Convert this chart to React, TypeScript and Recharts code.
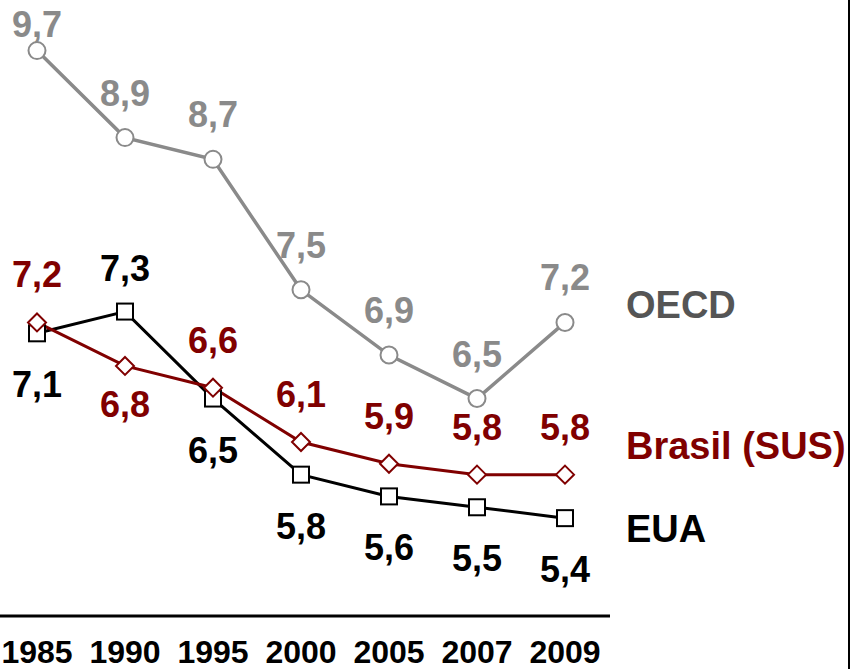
import React from "react";
import { LineChart, Line, XAxis, YAxis } from "recharts";

const years = ["1985", "1990", "1995", "2000", "2005", "2007", "2009"];
const oecd = [9.7, 8.9, 8.7, 7.5, 6.9, 6.5, 7.2];
const brasil = [7.2, 6.8, 6.6, 6.1, 5.9, 5.8, 5.8];
const eua = [7.1, 7.3, 6.5, 5.8, 5.6, 5.5, 5.4];

// label placement: which years break the usual side
const brasilLabelsBelow = ["1990"];
const euaLabelsAbove = ["1990"];

const data = years.map((year, i) => ({
  year,
  oecd: oecd[i],
  brasil: brasil[i],
  eua: eua[i],
}));

const FONT = "'Liberation Sans', Arial, sans-serif";
const GRAY = "#8a8a8a";
const RED = "#800000";
const BLACK = "#000000";

const fmt = (v: number) => v.toFixed(1).replace(".", ",");

function CircleDot(props: any) {
  const { cx, cy } = props;
  if (cx == null || cy == null) return null;
  return <circle cx={cx} cy={cy} r={8.5} fill="#fff" stroke={GRAY} strokeWidth={2} />;
}

function SquareDot(props: any) {
  const { cx, cy } = props;
  if (cx == null || cy == null) return null;
  return <rect x={cx - 8} y={cy - 8} width={16} height={16} fill="#fff" stroke={BLACK} strokeWidth={2} />;
}

function DiamondDot(props: any) {
  const { cx, cy } = props;
  if (cx == null || cy == null) return null;
  const r = 9;
  return (
    <polygon
      points={`${cx},${cy - r} ${cx + r},${cy} ${cx},${cy + r} ${cx - r},${cy}`}
      fill="#fff"
      stroke={RED}
      strokeWidth={2}
    />
  );
}

function makeLabel(opts: {
  color: string;
  name: string;
  nameColor: string;
  nameDy: number;
  baseline: (y: number, year: string) => number;
}) {
  return (props: any) => {
    const { x, y, value, index } = props;
    const year = years[index];
    const last = index === years.length - 1;
    return (
      <g key={`lbl-${opts.name}-${index}`}>
        <text
          x={x}
          y={opts.baseline(y, year)}
          textAnchor="middle"
          fontFamily={FONT}
          fontWeight="bold"
          fontSize={36}
          fill={opts.color}
        >
          {fmt(value)}
        </text>
        {last && (
          <text
            x={x + 61}
            y={y + opts.nameDy}
            fontFamily={FONT}
            fontWeight="bold"
            fontSize={38}
            fill={opts.nameColor}
          >
            {opts.name}
          </text>
        )}
      </g>
    );
  };
}

const oecdLabel = makeLabel({
  color: GRAY,
  name: "OECD",
  nameColor: "#555555",
  nameDy: -4,
  baseline: (y) => Math.max(y - 32, 37),
});

const brasilLabel = makeLabel({
  color: RED,
  name: "Brasil (SUS)",
  nameColor: RED,
  nameDy: -16,
  baseline: (y, year) => (brasilLabelsBelow.includes(year) ? y + 51 : y - 35),
});

const euaLabel = makeLabel({
  color: BLACK,
  name: "EUA",
  nameColor: BLACK,
  nameDy: 24,
  baseline: (y, year) => (euaLabelsAbove.includes(year) ? y - 31 : y + 64),
});

export default function App() {
  return (
    <div style={{ position: "relative", width: 854, height: 669, background: "#fff" }}>
      <style>{"body{margin:0}"}</style>
      <LineChart
        width={854}
        height={669}
        data={data}
        margin={{ top: 18, right: 244, left: 0, bottom: 0 }}
      >
        <XAxis
          dataKey="year"
          height={53}
          interval={0}
          padding={{ left: 37, right: 45 }}
          axisLine={{ stroke: BLACK, strokeWidth: 3 }}
          tickLine={false}
          tickSize={0}
          tickMargin={24}
          tick={{ fontSize: 32, fontWeight: "bold", fill: BLACK, fontFamily: FONT }}
        />
        <YAxis type="number" domain={[4.5, 10]} hide width={0} />
        <Line
          dataKey="oecd"
          stroke={GRAY}
          strokeWidth={3.5}
          dot={<CircleDot />}
          activeDot={false}
          label={oecdLabel}
          isAnimationActive={false}
        />
        <Line
          dataKey="eua"
          stroke={BLACK}
          strokeWidth={3}
          dot={<SquareDot />}
          activeDot={false}
          label={euaLabel}
          isAnimationActive={false}
        />
        <Line
          dataKey="brasil"
          stroke={RED}
          strokeWidth={3}
          dot={<DiamondDot />}
          activeDot={false}
          label={brasilLabel}
          isAnimationActive={false}
        />
      </LineChart>
      <div
        style={{ position: "absolute", left: 848, top: 0, width: 2, height: 669, background: BLACK }}
      />
    </div>
  );
}
